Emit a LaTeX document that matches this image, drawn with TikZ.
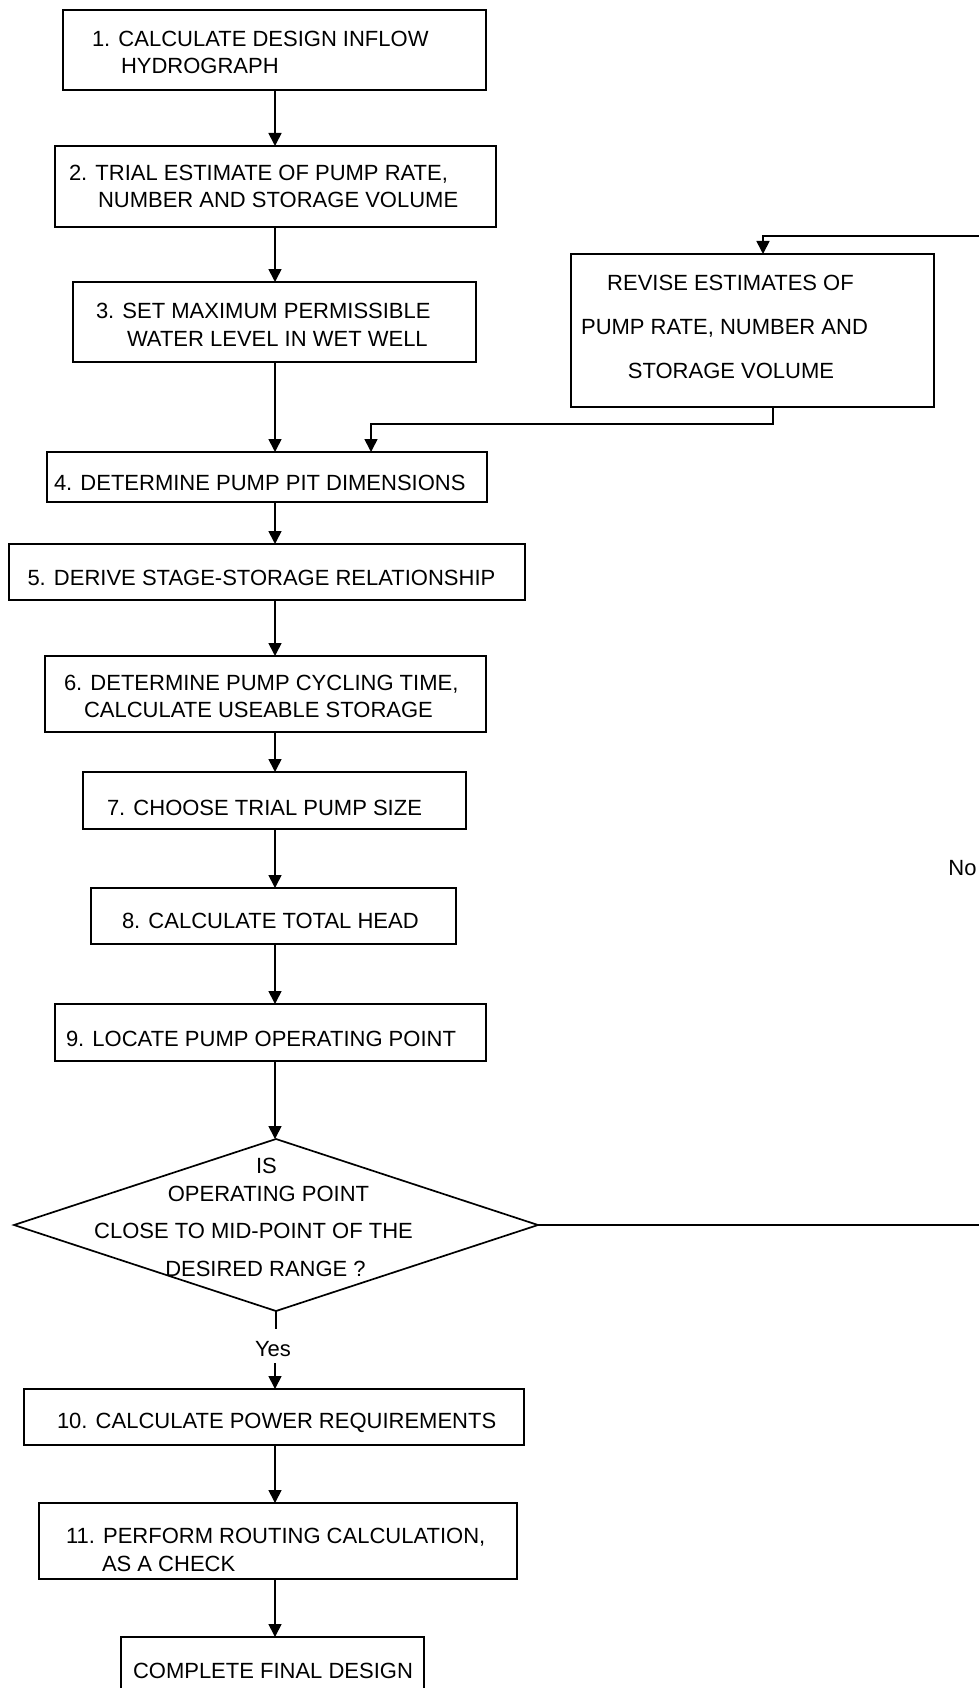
\documentclass[tikz,border=0pt]{standalone}
\usepackage{fontspec}
\setmainfont{Liberation Sans}
\usetikzlibrary{arrows.meta,shapes.geometric}
\begin{document}
\begin{tikzpicture}[x=1pt,y=-1pt,line width=1.7pt,
  box/.style={draw,rectangle,line width=1.7pt,inner sep=0pt,outer sep=0pt},
  dia/.style={draw,diamond,line width=1.7pt,inner sep=0pt,outer sep=0pt},
  txt/.style={inner sep=0pt,outer sep=0pt,anchor=base west,font=\fontsize{22}{27}\selectfont},
  ctxt/.style={txt,anchor=base},
  arr/.style={-{Triangle[length=13pt,width=13pt]}}]
\path[fill=white,use as bounding box] (0,0) rectangle (978,1688);
\coordinate (cx) at (275,0);
% boxes
\node[box,minimum width=423pt,minimum height=80pt] (b1) at (274.5,50) {};
\node[box,minimum width=441pt,minimum height=81pt] (b2) at (275.5,186.5) {};
\node[box,minimum width=403pt,minimum height=80pt] (b3) at (274.5,322) {};
\node[box,minimum width=440pt,minimum height=50pt] (b4) at (267,477) {};
\node[box,minimum width=516pt,minimum height=56pt] (b5) at (267,572) {};
\node[box,minimum width=441pt,minimum height=76pt] (b6) at (265.5,694) {};
\node[box,minimum width=383pt,minimum height=57pt] (b7) at (274.5,800.5) {};
\node[box,minimum width=365pt,minimum height=56pt] (b8) at (273.5,916) {};
\node[box,minimum width=431pt,minimum height=57pt] (b9) at (270.5,1032.5) {};
\node[dia,minimum width=524pt,minimum height=172pt] (d) at (276,1225) {};
\node[box,minimum width=500pt,minimum height=56pt] (b10) at (274,1417) {};
\node[box,minimum width=478pt,minimum height=76pt] (b11) at (278,1541) {};
\node[box,minimum width=303pt,minimum height=63pt] (bf) at (272.5,1668.5) {};
\node[box,minimum width=363pt,minimum height=153pt] (rev) at (752.5,330.5) {};
% texts
\node[txt] (t1a) at (92,47) {1. CALCULATE DESIGN INFLOW};
\node[txt] (t1b) at (121,74) {HYDROGRAPH};
\node[txt] (t2a) at (69,181) {2. TRIAL ESTIMATE OF PUMP RATE,};
\node[txt] (t2b) at (98,207.5) {NUMBER AND STORAGE VOLUME};
\node[txt] (t3a) at (96,318) {3. SET MAXIMUM PERMISSIBLE};
\node[txt] (t3b) at (127,346) {WATER LEVEL IN WET WELL};
\node[txt] (t4) at (54,490) {4. DETERMINE PUMP PIT DIMENSIONS};
\node[txt] (t5) at (27.5,585) {5. DERIVE STAGE-STORAGE RELATIONSHIP};
\node[txt] (t6a) at (64,690) {6. DETERMINE PUMP CYCLING TIME,};
\node[txt] (t6b) at (84,717) {CALCULATE USEABLE STORAGE};
\node[txt] (t7) at (107,815) {7. CHOOSE TRIAL PUMP SIZE};
\node[txt] (t8) at (122,928) {8. CALCULATE TOTAL HEAD};
\node[txt] (t9) at (66,1046) {9. LOCATE PUMP OPERATING POINT};
\node[ctxt] (dq1) at (266.5,1173) {IS};
\node[ctxt] (dq2) at (268.5,1201) {OPERATING POINT};
\node[ctxt] (dq3) at (253.5,1238) {CLOSE TO MID-POINT OF THE};
\node[ctxt] (dq4) at (265.5,1276) {DESIRED RANGE ?};
\node[ctxt] (r1) at (730.5,290) {REVISE ESTIMATES OF};
\node[ctxt] (r2) at (724.5,334) {PUMP RATE, NUMBER AND};
\node[ctxt] (r3) at (731,378) {STORAGE VOLUME};
\node[txt] (t10) at (57,1428) {10. CALCULATE POWER REQUIREMENTS};
\node[txt] (t11a) at (66,1543) {11. PERFORM ROUTING CALCULATION,};
\node[txt] (t11b) at (102,1571) {AS A CHECK};
\node[txt] (tf) at (133,1678) {COMPLETE FINAL DESIGN};
\node[ctxt] (yes) at (273,1356) {Yes};
\node[ctxt] (no) at (962.5,875) {No};
% connectors
\draw[arr] (b1.south -| cx) -- (b2.north -| cx);
\draw[arr] (b2.south -| cx) -- (b3.north -| cx);
\draw[arr] (b3.south -| cx) -- (b4.north -| cx);
\draw[arr] (b4.south -| cx) -- (b5.north -| cx);
\draw[arr] (b5.south -| cx) -- (b6.north -| cx);
\draw[arr] (b6.south -| cx) -- (b7.north -| cx);
\draw[arr] (b7.south -| cx) -- (b8.north -| cx);
\draw[arr] (b8.south -| cx) -- (b9.north -| cx);
\draw[arr] (b9.south -| cx) -- (d.north -| cx);
\coordinate (ya) at (276,1329);
\coordinate (yb) at (275,1363);
\draw (d.south) -- (ya);
\draw[arr] (yb) -- (b10.north -| yb);
\draw[arr] (b10.south -| cx) -- (b11.north -| cx);
\draw[arr] (b11.south -| cx) -- (bf.north -| cx);
% loop
\coordinate (loopR) at (981,1225);
\coordinate (loopT) at (981,236);
\coordinate (revx) at (763,0);
\draw[arr] (d.east) -- (loopR) -- (loopT) -| (rev.north -| revx);
\coordinate (bend) at (773,424);
\coordinate (jx) at (371,0);
\draw[arr] (rev.south -| bend) -- (bend) -| (b4.north -| jx);
\end{tikzpicture}
\end{document}
